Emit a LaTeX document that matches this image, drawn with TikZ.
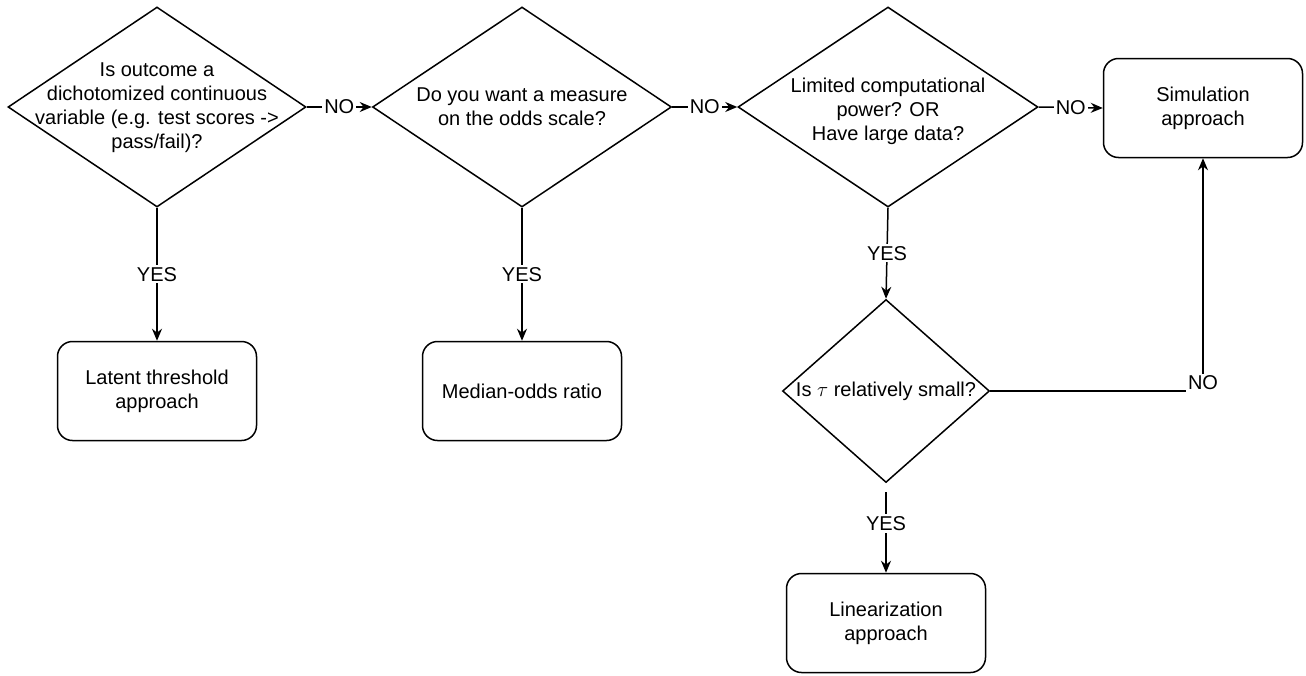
\documentclass[tikz,border=0pt]{standalone}
\usepackage{fontspec}
\setmainfont{Liberation Sans}
\usetikzlibrary{shapes.geometric,arrows.meta}
\newcommand\diagfont{\fontsize{20}{24}\selectfont}
\begin{document}
\begin{tikzpicture}[x=1pt,y=-1pt,
  decision/.style={diamond, draw, line width=1.5pt, inner sep=0pt},
  outcome/.style={rectangle, rounded corners=15pt, draw, line width=1.5pt,
    minimum width=199pt, minimum height=99pt, align=center, font=\diagfont},
  txt/.style={align=center, font=\diagfont},
  lbl/.style={fill=white, inner sep=2pt, font=\diagfont},
  arr/.style={-{Stealth[length=12pt,width=10pt]}, line width=1.5pt}]
\useasboundingbox (0,0) rectangle (1306,675);

\node[decision, minimum width=298pt, minimum height=200pt] (d1) at (157,107) {};
\node[txt] (t1) at ([yshift=-1pt]d1) {Is outcome a\\dichotomized continuous\\variable (e.g. test scores ->\\pass/fail)?};
\node[decision, minimum width=299pt, minimum height=200pt] (d2) at (522,107) {};
\node[txt] (t2) at (d2) {Do you want a measure\\on the odds scale?};
\node[decision, minimum width=300pt, minimum height=200pt] (d3) at (888,107) {};
\node[txt] (t3) at ([yshift=-4pt]d3) {Limited computational\\power? OR\\Have large data?};
\node[decision, minimum width=207pt, minimum height=183pt] (d4) at (886,391) {};
\node[txt] (t4) at (d4) {Is $\tau$ relatively small?};

\node[outcome] (sim) at (1203,108) {Simulation\\approach};
\node[outcome] (latent) at (157,391) {Latent threshold\\approach};
\node[outcome] (median) at (522,391) {Median-odds ratio};
\node[outcome] (lin) at (886,623) {Linearization\\approach};

\draw[arr] (d1.east) -- node[lbl]{NO} (d2.west);
\draw[arr] (d2.east) -- node[lbl]{NO} (d3.west);
\draw[arr] (d3.east) -- node[lbl]{NO} (sim.west);
\draw[arr] (d1.south) -- node[lbl]{YES} (latent.north);
\draw[arr] (d2.south) -- node[lbl]{YES} (median.north);
\draw[arr] (d3.south) -- node[lbl]{YES} (d4.north);
\draw[arr, shorten <=9pt] (d4.south) -- node[lbl, pos=0.45]{YES} (lin.north);
\draw[arr] (d4.east) -| node[lbl, pos=0.5, yshift=8pt]{NO} (sim.south);
\end{tikzpicture}
\end{document}
